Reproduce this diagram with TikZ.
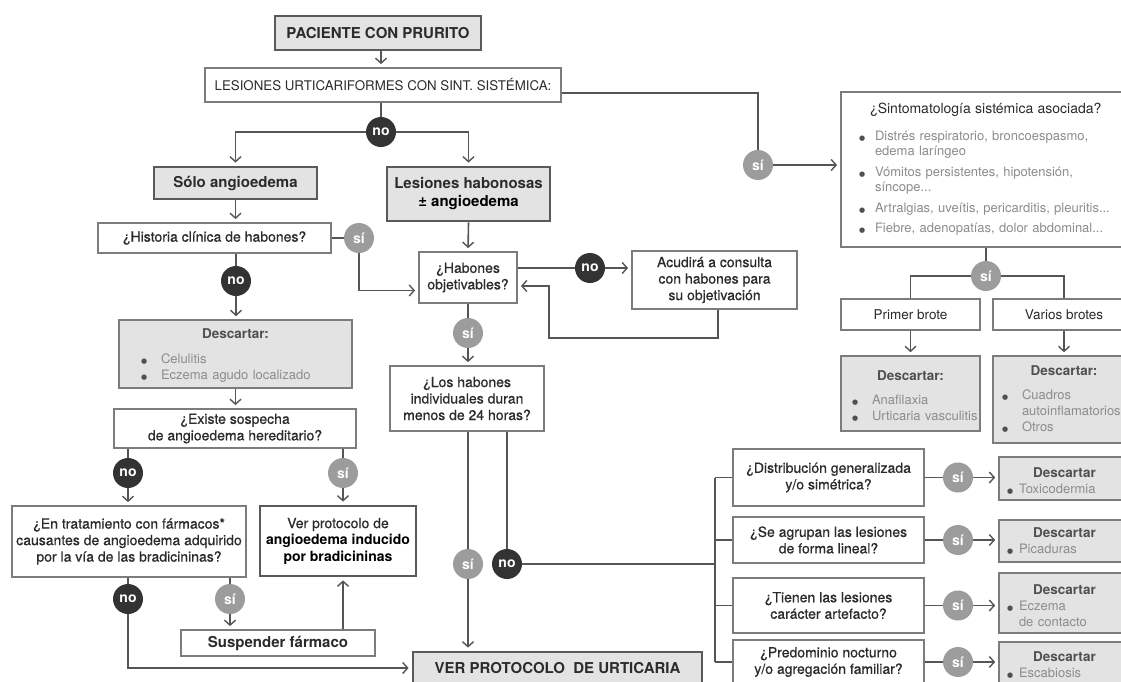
\documentclass[tikz,border=0pt]{standalone}
\usepackage{fontspec}
\setmainfont{TeX Gyre Heros}
\newfontfamily\medf[BoldFont={TeX Gyre Heros},BoldFeatures={FakeBold=0.6}]{TeX Gyre Heros}
\newfontfamily\symf{DejaVu Sans}
\usetikzlibrary{arrows.meta,calc}
\definecolor{txt}{HTML}{2B2B2B}
\definecolor{lt}{HTML}{8C8C8C}
\definecolor{hd}{HTML}{505050}
\definecolor{bdr}{HTML}{7C7C7C}
\definecolor{bdk}{HTML}{5A5A5A}
\definecolor{gfill}{HTML}{E3E3E3}
\definecolor{lc}{HTML}{555555}
\definecolor{cnob}{HTML}{333333}
\definecolor{csib}{HTML}{9C9C9C}
\newcommand\ftq{\medf\bfseries\fontsize{14}{16.5}\selectfont}
\newcommand\fth{\fontsize{15}{18}\selectfont\bfseries}
\newcommand\ftc{\fontsize{14}{14}\selectfont\bfseries}
\newcommand\ftl{\fontsize{13}{16}\selectfont}
\newcommand\bulx[1][20pt]{\makebox[#1][l]{\textcolor{hd}{\symf\fontsize{7}{7}\selectfont ●}}}
\newcommand\dhd[2]{\makebox[#1][c]{\textcolor{hd}{\bfseries\fontsize{13.5}{16}\selectfont #2}}}
\tikzset{
  sz/.style 2 args={minimum width=#1pt, minimum height=#2pt},
  wbox/.style={draw=bdr, line width=1.8pt, fill=white, inner sep=0pt, align=center, text=txt, font=\ftq},
  hbox/.style={draw=bdk, line width=2.8pt, fill=gfill, inner sep=0pt, align=center, text=txt, font=\fth},
  hwbox/.style={hbox, fill=white, font=\ftq},
  gbox/.style={draw=bdr, line width=1.6pt, fill=gfill, inner sep=0pt, align=left, text=lt, font=\ftl},
  nobub/.style={circle, fill=cnob, text=white, font=\ftc, minimum size=30pt, inner sep=0pt},
  sibub/.style={nobub, fill=csib},
  conn/.style={draw=lc, line width=1.6pt},
  arr/.style={conn, -{Straight Barb[length=5pt,width=11pt,line width=1.4pt]}, shorten >=3pt},
}
\begin{document}
\begin{tikzpicture}[x=1pt,y=-1pt]
\useasboundingbox (0,0) rectangle (1121,681);
\clip (0,0) rectangle (1121,681);
\fill[white] (0,0) rectangle (1121,681);

% ---- left / centre column
\node[hbox, sz={206}{34}] (pac) at (378,33) {PACIENTE CON PRURITO};
\node[wbox, sz={356}{34}, font=\fontsize{13.3}{16}\selectfont] (les) at (383,85) {LESIONES URTICARIFORMES CON SINT. SISTÉMICA:};
\node[nobub] (no1) at (381,132) {no};
\node[hbox, sz={163}{32}] (solo) at (235.5,183) {Sólo angioedema};
\node[hbox, sz={163}{54}] (habon) at (468.5,194) {Lesiones habonosas\\\textcolor{black}{± angioedema}};
\node[wbox, sz={233}{30}] (hist) at (214.5,238) {¿Historia clínica de habones?};
\node[sibub] (si1) at (359,238) {sí};
\node[nobub] (no2) at (236,281) {no};
\node[gbox, sz={233}{68}, text width=233pt] (desc1) at (235.5,354) {\dhd{233pt}{\rule{0pt}{12pt}Descartar:}\\[9pt]\hspace*{22pt}\bulx Celulitis\\\hspace*{22pt}\bulx Eczema agudo localizado};
\node[wbox, sz={242}{39}] (exist) at (235,428.5) {¿Existe sospecha\\de angioedema hereditario?};
\node[nobub] (no3) at (128,473) {no};
\node[sibub] (si3) at (343,473) {sí};
\node[wbox, sz={234}{71}] (trat) at (129,541.5) {¿En tratamiento con fármacos*\\causantes de angioedema adquirido\\por la vía de las bradicininas?};
\node[hwbox, sz={156}{70}] (verang) at (338,541) {Ver protocolo de\\{\rmfamily\bfseries\textcolor{black}{angioedema inducido}}\\{\rmfamily\bfseries\textcolor{black}{por bradicininas}}};
\node[nobub] (no4) at (128,599) {no};
\node[sibub] (si4) at (230,599) {sí};
\node[wbox, sz={194}{26}, font=\fth] (susp) at (278,643) {Suspender fármaco};
\node[hbox, sz={289}{32}] (verurt) at (557.5,668) {VER PROTOCOLO\ \ DE URTICARIA};

\node[wbox, sz={98}{51}] (habobj) at (468,277.5) {¿Habones\\objetivables?};
\node[nobub] (no5) at (590,268) {no};
\node[wbox, sz={165}{58}] (acud) at (714.5,280) {Acudirá a consulta\\con habones para\\su objetivación};
\node[sibub] (si5) at (468,333) {sí};
\node[wbox, sz={154}{65}] (losh) at (467,398.5) {¿Los habones\\individuales duran\\menos de 24 horas?};
\node[sibub] (si6) at (468,564) {sí};
\node[nobub] (no6) at (507,564) {no};
\coordinate (bus) at (715,564);
\coordinate (ret) at (549,338);

% ---- right upper
\node[sibub] (si2) at (758,165) {sí};
\node[wbox, sz={294}{155}, text width=294pt, align=left, font=\fontsize{13}{15}\selectfont, text=lt] (sint) at (988,169.5)
 {\hspace*{29pt}\textcolor{txt}{\fontsize{14}{16}\selectfont ¿Sintomatología sistémica asociada?}\\[12pt]
  \hspace*{18pt}\bulx[16pt]Distrés respiratorio, broncoespasmo,\\\hspace*{34pt}edema laríngeo\\[6pt]
  \hspace*{18pt}\bulx[16pt]Vómitos persistentes, hipotensión,\\\hspace*{34pt}síncope...\\[6pt]
  \hspace*{18pt}\bulx[16pt]Artralgias, uveítis, pericarditis, pleuritis...\\[5pt]
  \hspace*{18pt}\bulx[16pt]Fiebre, adenopatías, dolor abdominal...};
\node[sibub] (si7) at (986,276) {sí};
\node[wbox, sz={139}{31}, font=\fontsize{13.5}{16}\selectfont] (prim) at (910.5,314.5) {Primer brote};
\node[wbox, sz={142}{31}, font=\fontsize{13.5}{16}\selectfont] (var) at (1064,314.5) {Varios brotes};
\node[gbox, sz={139}{75}, text width=139pt] (dprim) at (910.5,393.5) {\dhd{139pt}{\rule{0pt}{14pt}Descartar:}\\[8pt]\hspace*{11pt}\bulx Anafilaxia\\\hspace*{11pt}\bulx Urticaria vasculitis};
\node[gbox, sz={142}{87}, text width=142pt] (dvar) at (1064,399.5) {\dhd{142pt}{Descartar:}\\[8pt]\hspace*{9pt}\bulx Cuadros\\\hspace*{29pt}autoinflamatorios\\\hspace*{9pt}\bulx Otros};

% ---- right lower
\node[wbox, sz={191}{57}] (q1) at (828.5,477.5) {¿Distribución generalizada\\y/o simétrica?};
\node[wbox, sz={191}{46}] (q2) at (828.5,540) {¿Se agrupan las lesiones\\de forma lineal?};
\node[wbox, sz={191}{55}] (q3) at (828.5,605.5) {¿Tienen las lesiones\\carácter artefacto?};
\node[wbox, sz={191}{44}] (q4) at (828.5,662) {¿Predominio nocturno\\y/o agregación familiar?};
\node[sibub] (s1) at (958,477.5) {sí};
\node[sibub] (s2) at (958,540) {sí};
\node[sibub] (s3) at (958,605.5) {sí};
\node[sibub] (s4) at (958,662) {sí};
\node[gbox, sz={131}{43}, text width=131pt] (d1) at (1064.5,478.5) {\dhd{131pt}{\rule{0pt}{14pt}Descartar}\\\hspace*{8pt}\bulx[12pt]Toxicodermia};
\node[gbox, sz={131}{42}, text width=131pt] (d2) at (1064.5,541) {\dhd{131pt}{Descartar}\\\hspace*{8pt}\bulx[12pt]Picaduras};
\node[gbox, sz={131}{60}, text width=131pt] (d3) at (1064.5,603) {\dhd{131pt}{\rule{0pt}{16pt}Descartar}\\\hspace*{8pt}\bulx[12pt]Eczema\\\hspace*{20pt}de contacto};
\node[gbox, sz={131}{46}, text width=131pt] (d4) at (1064.5,665) {\dhd{131pt}{\rule{0pt}{9pt}Descartar}\\\hspace*{8pt}\bulx[12pt]Escabiosis};

% ---- connectors
\draw[arr] (pac.south -| no1) -- (les.north -| no1);
\draw[conn] (les.south -| no1) -- (no1);
\draw[arr] (no1) -| (solo.north);
\draw[arr] (no1) -| (habon.north);
\draw[conn] ([yshift=-8pt]les.east) -| (si2);
\draw[arr] (si2) -- (si2 -| sint.west);
\draw[arr] (solo.south) -- (solo.south |- hist.north);
\draw[conn] (hist.east) -- (si1);
\draw[arr] (si1) |- ([yshift=-13pt]habobj.west);
\draw[conn] (hist.south -| no2) -- (no2);
\draw[arr] (no2) -- (no2 |- desc1.north);
\draw[arr] (desc1.south) -- (desc1.south |- exist.north);
\draw[conn] (exist.south -| no3) -- (no3);
\draw[conn] (exist.south -| si3) -- (si3);
\draw[arr] (no3) -- (no3 |- trat.north);
\draw[arr] (si3) -- (si3 |- verang.north);
\draw[conn] (trat.south -| no4) -- (no4);
\draw[conn] (trat.south -| si4) -- (si4);
\draw[arr] (si4) -- (si4 |- susp.north);
\draw[arr] (susp.north -| si3) -- (verang.south -| si3);
\draw[arr] (no4) |- (verurt.west);
\draw[arr] (habon.south) -- (habobj.north);
\draw[conn] ([yshift=9.5pt]habobj.east) -- (no5);
\draw[arr] (no5) -- (no5 -| acud.west);
\draw[arr] ([xshift=3.5pt]acud.south) |- (ret) |- ([yshift=-8.5pt]habobj.east);
\draw[conn] (habobj.south) -- (si5);
\draw[arr] (si5) -- (si5 |- losh.north);
\draw[conn] (losh.south -| si6) -- (si6);
\draw[conn] (losh.south -| no6) -- (no6);
\draw[arr] (si6) -- (si6 |- verurt.north);
\draw[conn] (no6) -- (bus);
\draw[conn] (q1.west -| bus) -- (q4.west -| bus);
\foreach \q in {q1,q2,q3,q4} \draw[conn] (\q.west -| bus) -- (\q.west);
\draw[conn] (q1) -- (s1); \draw[arr] (s1) -- (s1 -| d1.west);
\draw[conn] (q2) -- (s2); \draw[arr] (s2) -- (s2 -| d2.west);
\draw[conn] (q3) -- (s3); \draw[arr] (s3) -- (s3 -| d3.west);
\draw[conn] (q4) -- (s4); \draw[arr] (s4) -- (s4 -| d4.west);
\draw[conn] (sint.south -| si7) -- (si7);
\draw[conn] (si7) -| (prim.north);
\draw[conn] (si7) -| (var.north);
\draw[arr] (prim) -- (dprim);
\draw[arr] (var) -- (dvar);
\end{tikzpicture}
\end{document}
